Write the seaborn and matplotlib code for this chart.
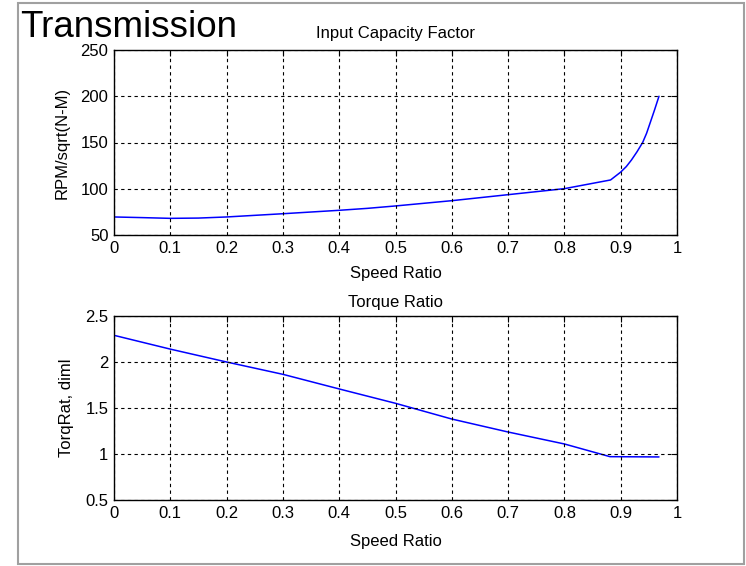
import matplotlib
matplotlib.use("Agg")
import numpy as np
import pandas as pd
import seaborn as sns
import matplotlib.pyplot as plt
from matplotlib.patches import Rectangle

# ---- data ----
speed_cap = [0.0, 0.05, 0.1, 0.15, 0.2, 0.3, 0.4, 0.45, 0.5, 0.6, 0.7, 0.8, 0.882,
             0.9, 0.91, 0.919, 0.929, 0.939, 0.946, 0.952, 0.96, 0.968]
cap_factor = [69.5, 68.8, 68.0, 68.3, 69.5, 73.0, 76.7, 78.8, 81.4, 87.1, 93.6, 100.1, 109.5,
              118.0, 124.0, 131.0, 140.0, 150.0, 160.0, 170.7, 185.0, 200.0]

speed_torq = [0.0, 0.1, 0.2, 0.3, 0.4, 0.5, 0.6, 0.7, 0.8, 0.881, 0.968]
torq_ratio = [2.29, 2.14, 2.00, 1.866, 1.707, 1.551, 1.38, 1.239, 1.109, 0.971, 0.968]

xticks = [0, 0.1, 0.2, 0.3, 0.4, 0.5, 0.6, 0.7, 0.8, 0.9, 1.0]
xtick_labels = ["0", "0.1", "0.2", "0.3", "0.4", "0.5", "0.6", "0.7", "0.8", "0.9", "1"]
yticks_top = [50, 100, 150, 200, 250]
yticks_bot = [0.5, 1, 1.5, 2, 2.5]
ytick_labels_bot = ["0.5", "1", "1.5", "2", "2.5"]

sns.set_theme(style="white")
plt.rcParams["font.family"] = ["Liberation Sans", "DejaVu Sans"]

W, H = 746, 566
fig = plt.figure(figsize=(W / 100, H / 100), dpi=100)
fig.patch.set_facecolor("white")

def fx(px):
    return px / W

def fy(py):
    return 1 - py / H

ax1 = fig.add_axes([fx(114), fy(235), fx(677) - fx(114), fy(50) - fy(235)])
ax2 = fig.add_axes([fx(114), fy(500), fx(677) - fx(114), fy(316) - fy(500)])

df1 = pd.DataFrame({"sr": speed_cap, "v": cap_factor})
df2 = pd.DataFrame({"sr": speed_torq, "v": torq_ratio})

sns.lineplot(data=df1, x="sr", y="v", ax=ax1, color="#0000ff", linewidth=1.1, estimator=None, sort=False)
sns.lineplot(data=df2, x="sr", y="v", ax=ax2, color="#0000ff", linewidth=1.1, estimator=None, sort=False)

for ax in (ax1, ax2):
    ax.set_xlim(0, 1)
    ax.set_xticks(xticks)
    ax.set_xticklabels(xtick_labels)
    ax.grid(True, color="black", linestyle=(0, (3, 3)), linewidth=0.8)
    ax.set_axisbelow(False)
    for s in ax.spines.values():
        s.set_color("black")
        s.set_linewidth(1.0)
        s.set_visible(True)
    ax.tick_params(direction="in", top=True, right=True, length=4, width=0.8,
                   labelsize=12, pad=4, colors="black")

ax1.set_xlabel("Speed Ratio", fontsize=12, labelpad=7.5, color="black")
ax2.set_xlabel("Speed Ratio", fontsize=12, labelpad=10, color="black")

ax1.set_ylim(50, 250)
ax1.set_yticks(yticks_top)
ax1.set_ylabel("RPM/sqrt(N-M)", fontsize=12, labelpad=8, color="black")
ax1.set_title("Input Capacity Factor", fontsize=12, pad=8.5, color="black")

ax2.set_ylim(0.5, 2.5)
ax2.set_yticks(yticks_bot)
ax2.set_yticklabels(ytick_labels_bot)
ax2.set_ylabel("TorqRat, diml", fontsize=12, labelpad=8, color="black")
ax2.set_title("Torque Ratio", fontsize=12, pad=6.5, color="black")

fig.text(fx(20), fy(37), "Transmission", fontsize=26.5, ha="left", va="baseline", color="black")

fig.patches.append(Rectangle((fx(18), fy(564)), fx(744) - fx(18), fy(3) - fy(564),
                             transform=fig.transFigure, fill=False,
                             edgecolor="#a0a0a0", linewidth=1.5))

fig.savefig("out.png", dpi=100)
